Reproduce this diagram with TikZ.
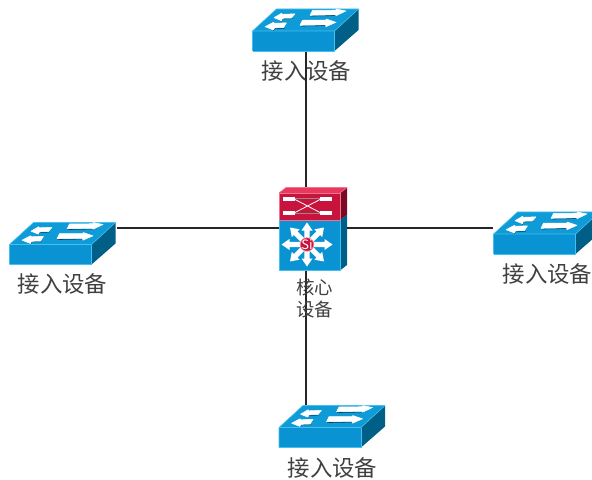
\documentclass[tikz,border=0pt]{standalone}
\usepackage{fontspec}
\setmainfont{Noto Sans CJK SC}
\definecolor{swfront}{HTML}{0A93D2}
\definecolor{swtop}{HTML}{0F9BD8}
\definecolor{swside}{HTML}{005F86}
\definecolor{swedge}{HTML}{45C0EE}
\definecolor{swshade}{HTML}{06405E}
\definecolor{redfront}{HTML}{C8143C}
\definecolor{redtop}{HTML}{E8385C}
\definecolor{redside}{HTML}{7A0A24}
\tikzset{
  x=1bp,y=-1bp,
  link/.style={draw=black!85,line width=1.15bp},
  label/.style={font=\fontsize{22.5}{27}\selectfont,text=black!75,inner sep=0pt},
  sublabel/.style={font=\fontsize{18.5}{22}\selectfont,text=black!75,inner sep=0pt,align=center},
  faceedge/.style={draw=swedge,line width=.6bp,line join=round},
  shade/.style={draw=swshade,line width=.7bp},
  arrowfill/.style={fill=white,draw=white,line width=.5bp,line join=round},
  switchbox/.style={inner sep=0pt,outer sep=0pt,minimum width=107bp,minimum height=43bp},
  corebox/.style={inner sep=0pt,outer sep=0pt,minimum width=68bp,minimum height=83bp}
}
\newcommand{\drawswitch}[2]{%
\begin{scope}[shift={(#1,#2)}]
  \fill[swtop] (0,0) -- (82,0) -- (106,-22) -- (24,-22) -- cycle;
  \fill[swside] (82,0) -- (106,-22) -- (106,-1) -- (82,20) -- cycle;
  \fill[swfront] (0,0) rectangle (82,20);
  \draw[faceedge] (0,20) -- (0,0) -- (24,-22) -- (106,-22);
  \draw[faceedge] (0,0) -- (82,0) -- (106,-22);
  \draw[faceedge] (0,20) -- (82,20) -- (82,0);
  \draw[shade] (29,-9.6) -- (30,-12.2) -- (40,-12.4);
  \draw[shade] (21,-0.3) -- (22,-2.6) -- (32,-2.8);
  \draw[shade] (58,-15) -- (84,-15.5);
  \draw[shade] (48,-5) -- (74,-5.5);
  \path[arrowfill] (21.5,-13.3) -- (29,-17.7) -- (30,-16.7) -- (42.5,-17.2) -- (39,-13) -- (30,-12.7) -- (29,-10.3) -- cycle;
  \path[arrowfill] (93.5,-20) -- (83.5,-22) -- (83.5,-20.8) -- (60,-20.5) -- (57.5,-15.7) -- (83,-16.2) -- (83.5,-15.3) -- cycle;
  \path[arrowfill] (12.5,-4.3) -- (21,-8.7) -- (22,-7.7) -- (34,-8.2) -- (31,-3.4) -- (22,-3.2) -- (21,-1) -- cycle;
  \path[arrowfill] (83.5,-8.7) -- (73.5,-12) -- (73.5,-10.8) -- (50,-10.8) -- (47.5,-5.7) -- (73,-6.2) -- (73.5,-4.3) -- cycle;
\end{scope}}
\begin{document}
\begin{tikzpicture}
\useasboundingbox (0,0) rectangle (592,480);
% named device boxes
\node[switchbox] (top) at (305.5,29.5) {};
\node[switchbox] (left) at (63,243) {};
\node[switchbox] (right) at (546.5,232.5) {};
\node[switchbox] (bottom) at (332,426.5) {};
\node[corebox] (core) at (313,228.5) {};
\coordinate (coreup) at (306,188);
\coordinate (coredown) at (306,270);
\coordinate (corew) at (279,228);
\coordinate (coree) at (347,228);
% connectors
\draw[link] (coreup) -- (coreup |- top.south);
\draw[link] (coredown) -- (coredown |- bottom.north);
\draw[link] (corew) -- (corew -| left.east);
\draw[link] (coree) -- (coree -| right.west);
% switches
\drawswitch{252.5}{31}
\drawswitch{9.5}{244.5}
\drawswitch{493.5}{234}
\drawswitch{279}{427.5}
% core
\fill[redtop] (279,193) -- (286,187.5) -- (347,187.5) -- (340,193) -- cycle;
\fill[redside] (340,193) -- (347,187.5) -- (347,215) -- (340,220) -- cycle;
\fill[redfront] (279,193) rectangle (340,220);
\fill[swside] (340,220) -- (347,215) -- (347,265) -- (340,270.5) -- cycle;
\fill[swfront] (279,220) rectangle (340,270.5);
\draw[redtop!70!white,line width=.6bp] (279,220) -- (279,193) -- (340,193) -- (340,220);
\draw[redtop!70!white,line width=.6bp] (279,193) -- (286,187.5) -- (347,187.5) (340,193) -- (347,187.5);
\draw[redtop!70!white,line width=.5bp] (279,220) -- (340,220);
\draw[swedge,line width=.6bp] (279,220) -- (279,270.5) -- (340,270.5) -- (340,220);
\draw[white,line width=.8bp] (295,199.5) -- (320,212.5) (295,212.5) -- (320,199.5);
\draw[black!45,line width=.8bp] (295,198.5) -- (320,198.5) (295,213.5) -- (320,213.5);
\fill[white] (283,197) rectangle (295,201);
\fill[white] (283,211) rectangle (295,215);
\fill[white] (320,197) rectangle (332,201);
\fill[white] (320,211) rectangle (332,215);
% eight arrows
\begin{scope}[shift={(307,244.5)}]
  \foreach \a/\len in {0/25.5,45/24,90/22,135/24,180/25.5,225/24,270/22,315/24}{
    \fill[white,rotate=\a] (4,-2.6) -- (\len-8,-2.6) -- (\len-8,-5.5) -- (\len,0) -- (\len-8,5.5) -- (\len-8,2.6) -- (4,2.6) -- cycle;
  }
  \filldraw[fill=redfront,draw=redtop!70!white,line width=.7bp] (0,0) circle (6.7);
  \node[font=\fontsize{13}{13}\selectfont,text=white,inner sep=0pt] (si) at (0,0) {Si};
\end{scope}
% labels
\node[label] (ltop) at (306.5,70.5) {接入设备};
\node[label] (lleft) at (62.5,283.5) {接入设备};
\node[label] (lright) at (547.5,273.5) {接入设备};
\node[label] (lbottom) at (332.5,467.5) {接入设备};
\node[sublabel] (lcore) at (314.5,298.5) {核心\\设备};
\end{tikzpicture}
\end{document}
